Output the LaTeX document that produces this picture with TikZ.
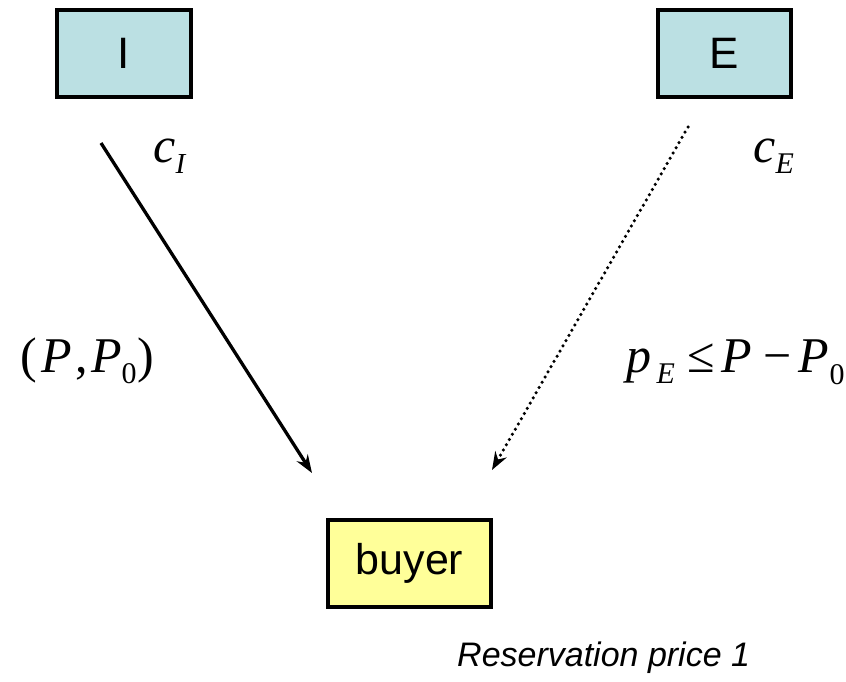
\documentclass[tikz,border=0pt]{standalone}
\usepackage{fontspec}
\setmainfont{Liberation Sans}
\newfontfamily\tms{Liberation Serif}
\usetikzlibrary{arrows.meta}
\definecolor{boxblue}{RGB}{187,224,227}
\definecolor{boxyellow}{RGB}{255,255,153}
\newcommand\fsz[1]{\fontsize{#1}{#1}\selectfont}
% glyph placed at x offset #1, lowered by #2, size #3
\newcommand\gl[4]{\rlap{\hspace*{#1pt}\raisebox{-#2pt}{\tms\fsz{#3}#4}}}
\begin{document}
\begin{tikzpicture}[x=1pt,y=-1pt,
  party/.style={draw=black,line width=4pt,minimum width=134pt,minimum height=87pt,inner sep=0pt,font=\fsz{44}},
  flow/.style={line width=3.3pt,-{Stealth[length=18pt,width=13pt]}},
  dots/.style={line width=3.5pt,line cap=round,dash pattern=on 0pt off 6pt,-{Stealth[length=18pt,width=13pt]}},
  lbl/.style={inner sep=0pt,anchor=base west}]
\useasboundingbox (0,0) rectangle (846,681);
\node[party,fill=boxblue] (I) at (124,53.5) {I};
\node[party,fill=boxblue,minimum width=133pt] (E) at (724.5,53.5) {E};
\node[party,fill=boxyellow,minimum width=163pt,font=\fsz{43}] (buyer) at (409.5,563.5) {buyer};
\coordinate (Is) at (101,143);
\coordinate (Ie) at (312,473);
\coordinate (Es) at (688,127);
\coordinate (Ee) at (492,470);
\draw[flow] (Is) -- (Ie);
\draw[dots] (Es) -- (Ee);
\node[lbl] (cI) at (153,162) {\gl{0}{0}{50}{\textit{c}}\gl{22}{11}{29}{\textit{I}}};
\node[lbl] (cE) at (753,162) {\gl{0}{0}{50}{\textit{c}}\gl{22}{11}{30}{\textit{E}}};
\node[lbl] (PP) at (20,372) {\gl{0}{0}{50}{(}\gl{21}{0}{50}{\textit{P}}\gl{55}{0}{50}{,}\gl{71}{0}{50}{\textit{P}}\gl{101}{11}{30}{0}\gl{117}{0}{50}{)}};
\node[lbl] (pE) at (624,372) {\gl{2}{0}{50}{\textit{p}}\gl{32}{11}{30}{\textit{E}}\gl{63}{0}{50}{≤}\gl{97}{0}{50}{\textit{P}}\gl{139}{0}{50}{−}\gl{174}{0}{50}{\textit{P}}\gl{205}{12}{30}{0}};
\node[lbl,font=\fsz{34}\itshape] (res) at (457,666) {Reservation price 1};
\end{tikzpicture}
\end{document}
